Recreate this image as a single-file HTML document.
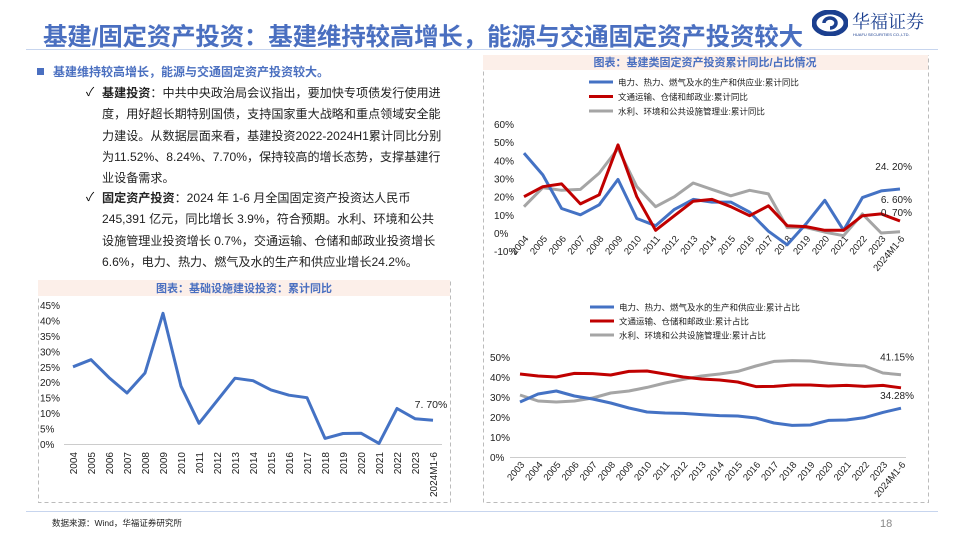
<!DOCTYPE html>
<html><head><meta charset="utf-8">
<style>
body{margin:0;width:960px;height:540px;overflow:hidden;background:#fff;font-family:"Liberation Sans","Noto Sans CJK SC",sans-serif;position:relative}
.abs{position:absolute}
#title{left:43px;top:18px;font-size:24.5px;font-weight:bold;color:#4a6fc0;white-space:nowrap;letter-spacing:-0.2px}
.txt{font-size:12.1px;color:#222;line-height:21.3px}
</style></head><body>
<div id="title" class="abs">基建/固定资产投资：基建维持较高增长，能源与交通固定资产投资较大</div>
<div class="abs" style="left:812px;top:10px;width:120px;height:30px">
<svg width="36" height="26" style="position:absolute;left:0;top:0"><ellipse cx="18" cy="13" rx="16" ry="11" fill="none" stroke="#1b3f8f" stroke-width="5"/><path d="M12 13 a6 5 0 1 1 6 5" fill="none" stroke="#1b3f8f" stroke-width="3.5"/></svg>
<div class="abs" style="left:40px;top:-2px;font-size:18px;color:#1b3f8f;font-family:'Noto Serif CJK SC',serif;white-space:nowrap">华福证券</div>
<div class="abs" style="left:41px;top:22px;font-size:4px;color:#1b3f8f;white-space:nowrap">HUAFU SECURITIES CO.,LTD.</div>
</div>
<div class="abs" style="left:26px;top:49px;width:912px;height:1px;background:#c7d5ee"></div>

<div class="abs" style="left:37px;top:63px;font-size:12px;color:#4a6fc0;font-weight:bold;white-space:nowrap"><span style="display:inline-block;width:7px;height:7px;background:#4a6fc0;margin-right:9px;vertical-align:1px"></span>基建维持较高增长，能源与交通固定资产投资较大。</div>
<div class="abs" style="left:86px;top:83px;font-size:12px">✓</div>
<div class="abs txt" style="left:102px;top:83px;width:342px"><b>基建投资</b>：中共中央政治局会议指出，要加快专项债发行使用进度，用好超长期特别国债，支持国家重大战略和重点领域安全能力建设。从数据层面来看，基建投资2022-2024H1累计同比分别为11.52%、8.24%、7.70%，保持较高的增长态势，支撑基建行业设备需求。</div>
<div class="abs" style="left:86px;top:188px;font-size:12px">✓</div>
<div class="abs txt" style="left:102px;top:188px;width:342px"><b>固定资产投资</b>：2024 年 1-6 月全国固定资产投资达人民币 245,391 亿元，同比增长 3.9%，符合预期。水利、环境和公共设施管理业投资增长 0.7%，交通运输、仓储和邮政业投资增长 6.6%，电力、热力、燃气及水的生产和供应业增长24.2%。</div>

<svg class="abs" style="left:0;top:0" width="960" height="540" id="charts">
<rect x="38.5" y="280.5" width="412" height="222" fill="none" stroke="#bbb" stroke-dasharray="4,3"/>
<rect x="38" y="280" width="412" height="16" fill="#fcefe9"/>
<text x="244" y="292" font-size="11" font-weight="bold" fill="#4a6fc0" text-anchor="middle">图表：基础设施建设投资：累计同比</text>
<rect x="483.5" y="55.5" width="445" height="447" fill="none" stroke="#bbb" stroke-dasharray="4,3"/>
<rect x="483" y="55" width="445" height="15" fill="#fcefe9"/>
<text x="705" y="66" font-size="11" font-weight="bold" fill="#4a6fc0" text-anchor="middle">图表：基建类固定资产投资累计同比/占比情况</text>
<line x1="26" y1="511.5" x2="938" y2="511.5" stroke="#c7d5ee"/>
<text x="52" y="526" font-size="8.5" fill="#222">数据来源：Wind，华福证券研究所</text>
<text x="880" y="527" font-size="11" fill="#888">18</text>
<g id="g1"></g><g id="g2"></g><g id="g3"></g>
</svg>

<script>
const c1Cats=["2004","2005","2006","2007","2008","2009","2010","2011","2012","2013","2014","2015","2016","2017","2018","2019","2020","2021","2022","2023","2024M1-6"];
const c1Vals=[25,27.3,21.5,16.5,23,42.3,18.7,6.7,14,21.3,20.5,17.5,15.8,15,1.8,3.4,3.5,0.2,11.5,8.2,7.7];
const c1Ticks=[0,5,10,15,20,25,30,35,40,45];

const c2Cats=["2004","2005","2006","2007","2008","2009","2010","2011","2012","2013","2014","2015","2016","2017","2018","2019","2020","2021","2022","2023","2024M1-6"];
const c2Power=[44,32,13.5,10,15.5,29.5,8,4,13,18.5,17,17,11.5,1,-6.5,5,18,1.5,19.5,23.2,24.2];
const c2Trans=[20,25.5,27,16,21,48.5,20,1.5,9.5,17.5,18.5,14.5,9.5,15,4,3.5,1.5,1.5,9.5,10.5,6.6];
const c2Water=[14.5,25,23.5,24,33,46.5,25.5,14.5,20,27.5,24,20.5,23.5,21.5,3,3,0.5,-1.5,10.5,0,0.7];
const c2Ticks=[-10,0,10,20,30,40,50,60];

const c3Cats=["2003","2004","2005","2006","2007","2008","2009","2010","2011","2012","2013","2014","2015","2016","2017","2018","2019","2020","2021","2022","2023","2024M1-6"];
const c3Power=[27.5,31.5,33,30.5,29,27,24.5,22.5,22,21.8,21.2,20.7,20.5,19.5,17,15.8,16,18.3,18.5,19.7,22.3,24.4];
const c3Trans=[41.5,40.5,40,41.8,41.7,41,42.8,43,41.5,40,39,38.5,37.5,35.2,35.3,36,36,35.5,35.8,35.3,35.8,34.6];
const c3Water=[31,28,27.5,28,29.5,32,33,34.8,37,38.8,40.5,41.5,42.8,45.5,47.8,48.2,48,46.8,46,45.5,42,41.15];
const c3Ticks=[0,10,20,30,40,50];

const NS="http://www.w3.org/2000/svg";
function mk(parent,tag,attrs,text){const e=document.createElementNS(NS,tag);for(const k in attrs)e.setAttribute(k,attrs[k]);if(text!==undefined)e.textContent=text;parent.appendChild(e);return e;}
function scaleX(x0,x1,n){return i=>x0+(x1-x0)*i/(n-1);}
function scaleY(v0,y0,v1,y1){return v=>y0+(v-v0)*(y1-y0)/(v1-v0);}
function drawLine(g,vals,sx,sy,color,name){
  const d=vals.map((v,i)=>(i?'L':'M')+sx(i).toFixed(1)+' '+sy(v).toFixed(1)).join(' ');
  const p=mk(g,'path',{d:d,fill:'none',stroke:color,'stroke-width':3,'stroke-linejoin':'round'});
  
  
}
function yTicks(g,ticks,sy,x,name){
  ticks.forEach(t=>{const e=mk(g,'text',{x:x,y:sy(t)+4,'font-size':10,fill:'#222'},t+'%');
    
    });
}
function legend(g,items,x,y,dy){
  items.forEach((it,i)=>{
    const l=mk(g,'line',{x1:x,y1:y+i*dy,x2:x+24,y2:y+i*dy,stroke:it[1],'stroke-width':3});
    
    
    const t=mk(g,'text',{x:x+29,y:y+i*dy+3.5,'font-size':8.5,fill:'#222'},it[0]);
    
    
  });
}
const BLUE="#4472c4",RED="#c00000",GRAY="#a5a5a5";

// chart 1
(function(){
 const g=document.getElementById('g1');
 const sx=scaleX(73,433,c1Cats.length), sy=scaleY(0,444,45,305);
 yTicks(g,c1Ticks,sy,40,'left-y-tick');
 const ax=mk(g,'line',{x1:64,y1:444.5,x2:442,y2:444.5,stroke:'#ccc'});
 
 
 c1Cats.forEach((c,i)=>{const t=mk(g,'text',{x:0,y:0,'font-size':10,fill:'#222','text-anchor':'end',transform:`translate(${sx(i)+4},${452}) rotate(-90)`},c);
  
  });
 drawLine(g,c1Vals,sx,sy,BLUE,'infra-yoy-line');
 const n=c1Vals.length-1;
 const lb=mk(g,'text',{x:sx(n)-2,y:sy(c1Vals[n])-12,'font-size':10.5,fill:'#222','text-anchor':'middle'},c1Vals[n].toFixed(2).replace(/^(\d+)\./,'$1. ')+'%');
 
 
})();

// chart 2
(function(){
 const g=document.getElementById('g2');
 legend(g,[["电力、热力、燃气及水的生产和供应业:累计同比",BLUE],["文通运输、仓储和邮政业:累计同比",RED],["水利、环境和公共设施管理业:累计同比",GRAY]],589,82,14.5);
 const sx=scaleX(524,900,c2Cats.length), sy=scaleY(0,233,60,124);
 yTicks(g,c2Ticks,sy,494,'top-y-tick');
 c2Cats.forEach((c,i)=>{const t=mk(g,'text',{x:0,y:0,'font-size':9.5,fill:'#222','text-anchor':'end',transform:`translate(${sx(i)+5},${239}) rotate(-50)`},c);
  
  });
 drawLine(g,c2Water,sx,sy,GRAY,'water-yoy-line');
 drawLine(g,c2Power,sx,sy,BLUE,'power-yoy-line');
 drawLine(g,c2Trans,sx,sy,RED,'transport-yoy-line');
 const n=c2Power.length-1;
 [[c2Power[n],sy(c2Power[n])-19],[c2Trans[n],203],[c2Water[n],216]].forEach(a=>{
  const t=mk(g,'text',{x:912,y:a[1],'font-size':10,fill:'#222','text-anchor':'end'},a[0].toFixed(2).replace(/^(-?\d+)\./,'$1. ')+'%');
  
  });
})();

// chart 3
(function(){
 const g=document.getElementById('g3');
 legend(g,[["电力、热力、燃气及水的生产和供应业:累计占比",BLUE],["文通运输、仓储和邮政业:累计占比",RED],["水利、环境和公共设施管理业:累计占比",GRAY]],590,307,14);
 const sx=scaleX(520,901,c3Cats.length), sy=scaleY(0,457,50,357);
 yTicks(g,c3Ticks,sy,490,'bottom-y-tick');
 const ax=mk(g,'line',{x1:510,y1:457.5,x2:906,y2:457.5,stroke:'#ccc'});
 
 
 c3Cats.forEach((c,i)=>{const t=mk(g,'text',{x:0,y:0,'font-size':9.5,fill:'#222','text-anchor':'end',transform:`translate(${sx(i)+5},${465}) rotate(-50)`},c);
  
  });
 drawLine(g,c3Water,sx,sy,GRAY,'water-share-line');
 drawLine(g,c3Trans,sx,sy,RED,'transport-share-line');
 drawLine(g,c3Power,sx,sy,BLUE,'power-share-line');
 const n=c3Water.length-1;
 const t1=mk(g,'text',{x:914,y:sy(c3Water[n])-14,'font-size':10,fill:'#222','text-anchor':'end'},c3Water[n].toFixed(2)+'%');
 
 
 const t2=mk(g,'text',{x:914,y:sy(c3Trans[n])+11,'font-size':10,fill:'#222','text-anchor':'end'},'34.28%');
 
 
})();
</script>
</body></html>
